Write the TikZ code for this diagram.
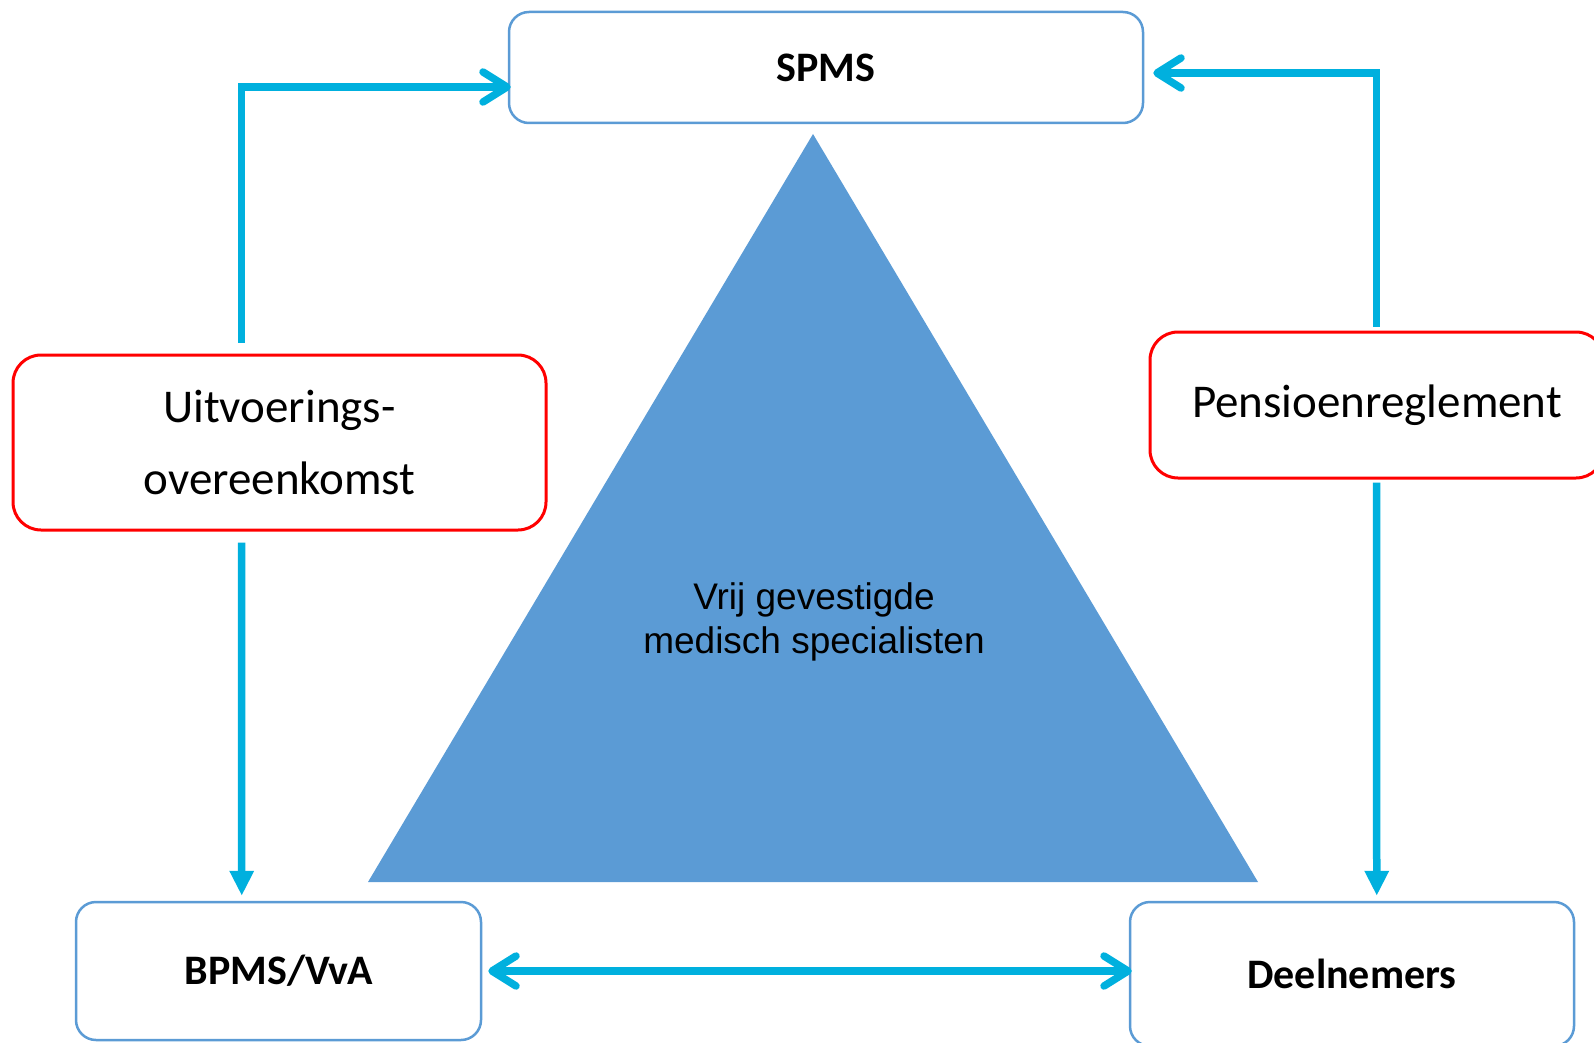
\documentclass[tikz,border=0pt]{standalone}
\usepackage{fontspec}
\setmainfont{Carlito}
\newfontfamily\arialfont{Liberation Sans}
\usetikzlibrary{arrows.meta,calc}
\definecolor{arrowc}{RGB}{0,176,222}
\definecolor{boxblue}{RGB}{91,155,213}
\definecolor{boxred}{RGB}{255,0,0}
\begin{document}
\begin{tikzpicture}[x=1pt,y=-1pt,
  bluebox/.style={draw=boxblue, line width=2.5pt, rounded corners=20pt, fill=white,
    inner sep=0pt, font=\fontsize{42}{50}\selectfont\bfseries},
  redbox/.style={draw=boxred, line width=3pt, rounded corners=28pt, fill=white,
    inner sep=0pt, align=center, font=\fontsize{47}{71}\selectfont},
  conn/.style={draw=arrowc, line width=7.5pt, line join=miter},
  barbend/.style={-{Straight Barb[length=24pt,width=30pt,line cap=round,line join=round]}},
  barbboth/.style={{Straight Barb[length=24pt,width=30pt,line cap=round,line join=round]}-{Straight Barb[length=24pt,width=30pt,line cap=round,line join=round]}},
  triend/.style={-{Triangle[length=25pt,width=23pt]}}
]
\useasboundingbox (0,0) rectangle (1594,1043);
\clip (0,0) rectangle (1594,1043);

% triangle
\coordinate (tapex) at (813,134);
\coordinate (tleft) at (368,882);
\coordinate (tright) at (1258,882);
\fill[boxblue] (tapex) -- (tright) -- (tleft) -- cycle;
\node[font=\arialfont\fontsize{37}{44}\selectfont, align=center, text=black] (vrij) at (814,622)
  {Vrij gevestigde\\medisch specialisten};

% boxes
\node[bluebox, minimum width=634pt, minimum height=111pt] (spms) at (826,67.5) {SPMS};
\node[redbox, minimum width=533pt, minimum height=175pt] (uitv) at (279.5,442.5) {Uitvoerings-\\overeenkomst};
\node[redbox, minimum width=454pt, minimum height=146pt] (pens) at (1377,405) {\raisebox{-2pt}{Pensioenreglement}};
\node[bluebox, minimum width=405pt, minimum height=138pt] (bpms) at (278.5,971) {BPMS/VvA};
\node[bluebox, minimum width=444pt, minimum height=144pt] (deel) at (1352,974) {Deelnemers};

% connectors
\coordinate (ltop) at ($(uitv.north west)+(230,-11)$);
\coordinate (rtop) at ($(pens.north west)+(228,-4)$);
\draw[conn, barbend] (ltop) |- ($(spms.west)+(3,19.5)$);
\draw[conn, barbend] (rtop) |- ($(spms.east)+(9,5.5)$);
\draw[conn, triend] ($(uitv.south west)+(230,11)$) -- ($(bpms.north west)+(167,-5)$);
\draw[conn, triend] ($(pens.south west)+(228,3)$) -- ($(deel.north west)+(248,-5)$);
\draw[conn, barbboth] ($(bpms.east)+(6,0)$) -- ($(deel.west |- bpms.east)+(3,0)$);
\end{tikzpicture}
\end{document}
